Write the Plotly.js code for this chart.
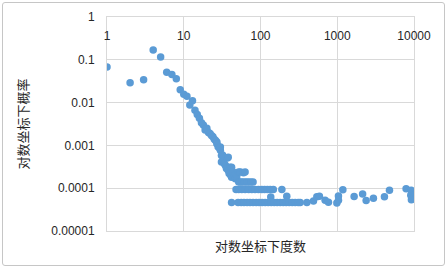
<!DOCTYPE html>
<html>
<head>
<meta charset="utf-8">
<script src="https://cdn.plot.ly/plotly-3.0.1.min.js"></script>
<style>
html,body{margin:0;padding:0;background:#fff;}
#wrap{position:relative;width:448px;height:268px;}
#chart{width:448px;height:268px;}
#frame{position:absolute;left:2px;top:2px;width:441px;height:262px;border:1px solid #c6c6c6;border-radius:3px;pointer-events:none;}
</style>
</head>
<body>
<div id="wrap"><div id="chart"></div><div id="frame"></div></div>
<script>
// degree values (x) and probabilities (y)
const headX = [1,2,3,4,5,6,7,8,9,10,11,12,13,14,15,16,17,18,19,20,21,22,23,24,25,26,27,27,28,29,30,30,31,32,33];
const headY = [0.068,0.029,0.034,0.169,0.117,0.051,0.0455,0.036,0.020,0.0157,0.014,0.0088,0.011,0.0066,0.0053,0.0043,0.0034,0.0030,0.0023,0.0025,0.0020,0.0019,0.0017,0.0016,0.0014,0.0013,0.0012,0.0011,0.00093,0.00088,0.00077,0.00092,0.00058,0.00060,0.00053];

const midX = [31,34,35,36,37,38,38,39,40,42,41,42,44,46,47,49,52,55,60,63,52,55,58,62,66,70,75,80];
const midY = [0.00041,0.00037,0.00034,0.00029,0.00051,0.00053,0.00026,0.00022,0.00031,0.00031,0.0002,0.00018,0.00024,0.0002,0.000166,0.000186,0.00024,0.00024,0.00023,0.00024,0.00014,0.00014,0.00014,0.00014,0.00014,0.00014,0.00014,0.00014];

const row2X = [48,52,57,63,70,77,85,94,104,113,123,134,147,190];
const row2Y = [0.000093,0.000093,0.000093,0.000093,0.000093,0.000093,0.000093,0.000093,0.000093,0.000093,0.000093,0.000093,0.000093,0.000093];

const row1X = [42,51,56,61,67,73,80,88,96,105,115,126,136,138,151,165,181,198,216,220,237,259,283,310,329,402];
const row1Y = [0.0000465,0.0000465,0.0000465,0.0000465,0.0000465,0.0000465,0.0000465,0.0000465,0.0000465,0.0000465,0.0000465,0.0000465,0.000062,0.0000465,0.0000465,0.0000465,0.0000465,0.0000465,0.0000465,0.000065,0.0000465,0.0000465,0.0000465,0.0000465,0.0000465,0.0000465];

const tailX = [490,542,586,695,768,988,1037,1037,1183,1660,2140,2380,2960,4120,4790,7890,9170,9080,9250];
const tailY = [0.00005,0.000063,0.000065,0.000052,0.000047,0.000045,0.000052,0.000066,0.000092,0.0000643,0.0000736,0.0000518,0.0000586,0.000063,0.000090,0.000097,0.000090,0.000068,0.000054];

const xTickVals = [1,10,100,1000,10000];
const xTickText = ['1','10','100','1000','10000'];
const yTickVals = [0.00001,0.0001,0.001,0.01,0.1,1];
const yTickText = ['0.00001','0.0001','0.001','0.01','0.1','1'];

const xTitle = '对数坐标下度数';
const yTitle = '对数坐标下概率';

const allX = headX.concat(midX, row2X, row1X, tailX);
const allY = headY.concat(midY, row2Y, row1Y, tailY);

const FONT = 'Liberation Sans, Arial, Noto Sans CJK SC, sans-serif';
const CJK = 'Noto Sans CJK SC, sans-serif';
const GRID = '#d9d9d9';

const trace = {
  x: allX, y: allY, type: 'scatter', mode: 'markers',
  marker: {color: '#5B9BD5', size: 7.5},
  hoverinfo: 'skip'
};

const layout = {
  width: 448, height: 268,
  margin: {l: 107, r: 34, t: 17, b: 37, pad: 0},
  paper_bgcolor: '#fff', plot_bgcolor: '#fff',
  showlegend: false,
  font: {family: FONT, size: 12, color: '#262626'},
  xaxis: {
    type: 'log', range: [0, 4], side: 'top', anchor: 'y',
    tickmode: 'array', tickvals: xTickVals, ticktext: xTickText,
    ticklabelposition: 'inside', ticklabeloverflow: 'allow',
    ticks: '', ticklabelstandoff: 14,
    showgrid: true, gridcolor: GRID, gridwidth: 1,
    showline: true, linecolor: GRID, linewidth: 1, mirror: true,
    zeroline: false, automargin: false,
    tickfont: {family: FONT, size: 12, color: '#262626'}
  },
  yaxis: {
    type: 'log', range: [-5, 0],
    tickmode: 'array', tickvals: yTickVals, ticktext: yTickText,
    ticks: '', ticklabelstandoff: 9,
    showgrid: true, gridcolor: GRID, gridwidth: 1,
    showline: true, linecolor: GRID, linewidth: 1, mirror: true,
    zeroline: false, automargin: false,
    tickfont: {family: FONT, size: 12, color: '#262626'},
    title: {text: yTitle, font: {family: CJK, size: 13, color: '#262626'}, standoff: 19}
  },
  annotations: [{
    text: xTitle, xref: 'paper', yref: 'paper', x: 0.5, y: -0.066,
    xanchor: 'center', yanchor: 'middle', showarrow: false,
    font: {family: CJK, size: 13, color: '#262626'}
  }]
};

Plotly.newPlot('chart', [trace], layout, {staticPlot: true, displayModeBar: false});
</script>
</body>
</html>
